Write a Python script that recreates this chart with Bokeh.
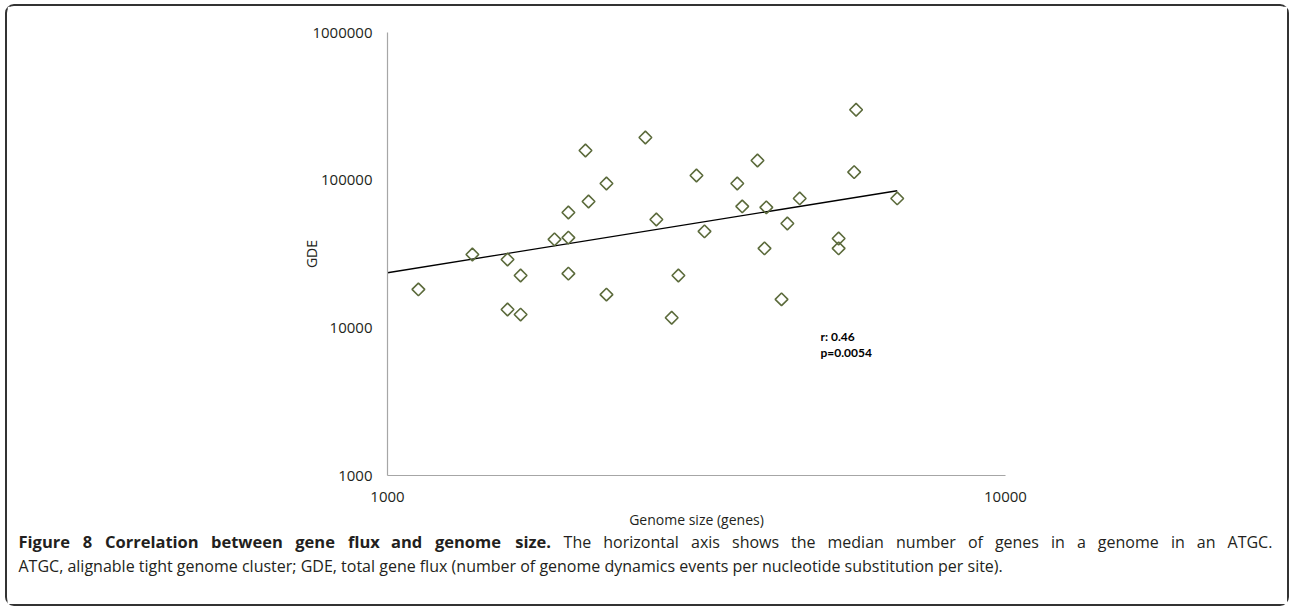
from bokeh.plotting import figure
from bokeh.layouts import column
from bokeh.models import (FixedTicker, NumeralTickFormatter, Label, Range1d,
                          ColumnDataSource)
from bokeh.core.properties import value
from bokeh.embed import file_html
from bokeh.resources import INLINE
import numpy as np

# Median genome size (genes) and total gene flux (GDE) per ATGC
genome_size = [1122, 1372, 1564, 1564, 1642, 1642, 1863, 1962, 1962, 1962,
               2091, 2115, 2261, 2261, 2614, 2723, 2883, 2956, 3162, 3258,
               3681, 3750, 3969, 4074, 4102, 4341, 4436, 4645, 5370, 5370,
               5731, 5690, 6680]
gde = [18200, 31400, 29000, 13300, 22600, 12300, 39700, 40800, 60400, 23300,
       158800, 71700, 95000, 16800, 194500, 54200, 11700, 22600, 107600, 45000,
       95000, 66400, 136000, 34500, 65400, 15600, 50900, 75200, 40300, 34500,
       299700, 113300, 75200]

# Power-law trend line end points
trend_x = [1000, 6680]
trend_y = [23600, 84800]

x_ticks = [1000, 10000]
y_ticks = [1000, 10000, 100000, 1000000]

stats_lines = ["r: 0.46", "p=0.0054"]
caption_bold = "Figure 8 Correlation between gene flux and genome size."
caption_rest = "The horizontal axis shows the median number of genes in a genome in an ATGC."
caption_line2 = ("ATGC, alignable tight genome cluster; GDE, total gene flux "
                 "(number of genome dynamics events per nucleotide substitution per site).")

FONT = "Open Sans"
TEXT = "#231f20"
W = 1280
H_MAIN = 525
H_CAP = 73

# ---- chart ----
p = figure(width=W, height=H_MAIN, x_axis_type="log", y_axis_type="log",
           x_range=(1000, 10000), y_range=(1000, 1000000),
           output_backend="svg", toolbar_location=None,
           min_border_left=380, min_border_right=282,
           min_border_top=26, min_border_bottom=56)
p.frame_align = False
p.outline_line_color = None
p.background_fill_color = "white"
p.border_fill_color = "white"
p.grid.visible = False

for ax, ticks in ((p.xaxis[0], x_ticks), (p.yaxis[0], y_ticks)):
    ax.ticker = FixedTicker(ticks=ticks, minor_ticks=[])
    ax.formatter = NumeralTickFormatter(format="0")
    ax.major_tick_line_color = None
    ax.minor_tick_line_color = None
    ax.axis_line_color = "#a6a6a6"
    ax.axis_line_width = 1.2
    ax.major_label_text_font = FONT
    ax.major_label_text_font_size = "15px"
    ax.major_label_text_color = TEXT
    ax.axis_label_text_font = FONT
    ax.axis_label_text_font_size = "14px"
    ax.axis_label_text_font_style = "normal"
    ax.axis_label_text_color = TEXT

p.xaxis.axis_label = "Genome size (genes)"
p.xaxis.major_label_standoff = 10
p.xaxis.axis_label_standoff = 5
p.yaxis.axis_label = "GDE"
p.yaxis.major_label_standoff = 9
p.yaxis.axis_label_standoff = -12

src = ColumnDataSource(dict(x=genome_size, y=gde))
p.line(trend_x, trend_y, line_color="black", line_width=1.3)
p.scatter("x", "y", source=src, marker="square", angle=np.pi / 4, size=9,
          fill_color=None, line_color="#5c6b3c", line_width=1.6)

# Correlation statistics
for i, s in enumerate(stats_lines):
    p.add_layout(Label(x=433, y=139 - 16 * i, x_units="screen", y_units="screen",
                       text=s, text_font="Lato", text_font_style="bold",
                       text_font_size="12px", text_color="black",
                       text_baseline="middle"))

# ---- caption ----
cap = figure(width=W, height=H_CAP, x_range=Range1d(0, W), y_range=Range1d(H_CAP, 0),
             output_backend="svg", toolbar_location=None,
             min_border=0, min_border_left=0, min_border_right=0,
             min_border_top=0, min_border_bottom=0)
cap.frame_align = False
cap.axis.visible = False
cap.grid.visible = False
cap.outline_line_color = None
cap.background_fill_color = "white"
cap.border_fill_color = "white"

# Approximate advance widths (em) of the caption font, used to justify the first line
ADV = dict(zip("abcdefghijklmnopqrstuvwxyz",
               [.556, .613, .48, .613, .561, .336, .546, .614, .258, .258, .529, .258, .932,
                .614, .603, .613, .613, .408, .477, .353, .614, .5, .772, .523, .5, .469]))
ADV.update({"A": .633, "T": .556, "G": .725, "C": .632, "F": .532, "8": .572, ".": .266})


def word_width(word, size, scale=1.0):
    return sum(ADV.get(ch, .55) for ch in word) * size * scale


NORMAL_SIZE = 16
BOLD_SIZE = 16.5
BOLD_SCALE = 1.085
LEFT, RIGHT = 11, 1265

bold_words = caption_bold.split()
rest_words = caption_rest.split()
widths = ([word_width(w, BOLD_SIZE, BOLD_SCALE) for w in bold_words]
          + [word_width(w, NORMAL_SIZE) for w in rest_words])
gap = (RIGHT - LEFT - sum(widths)) / (len(widths) - 1)
starts = []
pos = LEFT
for wdt in widths:
    starts.append(pos)
    pos += wdt + gap
nb = len(bold_words)

cap.text(x=starts[:nb], y=[10] * nb, text=bold_words, text_font=value(FONT),
         text_font_style="bold", text_font_size=f"{BOLD_SIZE}px", text_color=TEXT,
         text_baseline="middle")
cap.text(x=starts[nb:], y=[10] * len(rest_words), text=rest_words, text_font=value(FONT),
         text_font_size=f"{NORMAL_SIZE}px", text_color=TEXT, text_baseline="middle")
cap.text(x=[LEFT], y=[34], text=[caption_line2], text_font=value(FONT),
         text_font_size=f"{NORMAL_SIZE}px", text_color=TEXT, text_baseline="middle")

# Rounded frame around chart and caption
page = column(p, cap, spacing=0, margin=(4, 0, 0, 5),
              styles={"border": "2px solid #333333", "border-radius": "9px",
                      "background-color": "white"})

open("out.html", "w").write(file_html(page, INLINE))
